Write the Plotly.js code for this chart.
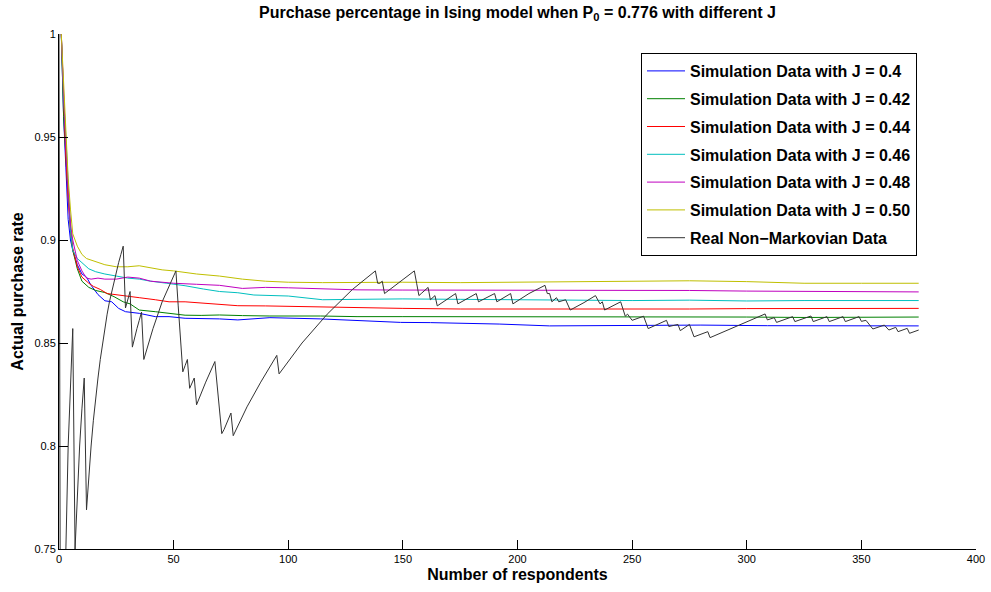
<!DOCTYPE html>
<html>
<head>
<meta charset="utf-8">
<script src="https://cdn.plot.ly/plotly-3.0.1.min.js"></script>
<style>html,body{margin:0;padding:0;background:#fff;}#chart{width:991px;height:592px;}</style>
</head>
<body>
<div id="chart"></div>
<script>
// Simulation curves (x = number of respondents, y = purchase rate)
const j40X = [1,2,3,4,5,6,8,10,12,14,17,20,23,26,29,35,42,48,55,63,70,78,92,114,138,149,162,192,214,250,280,309,340,375];
const j40Y = [1,0.96,0.935,0.91,0.9,0.895,0.888,0.8835,0.882,0.878,0.8735,0.8705,0.870,0.8668,0.8652,0.8644,0.8628,0.8628,0.862,0.862,0.8617,0.8612,0.8623,0.8617,0.8604,0.860,0.8599,0.8592,0.8583,0.8587,0.8587,0.8584,0.8583,0.8583];

const j42X = [1,2,3,4,5,6,8,10,13,16,20,24,28,31,35,42,48,55,62,70,80,92,114,130,150,175,200,225,250,275,300,325,350,375];
const j42Y = [1,0.96,0.94,0.92,0.905,0.895,0.886,0.880,0.877,0.8755,0.8745,0.8725,0.870,0.869,0.866,0.8652,0.8645,0.8635,0.8634,0.8636,0.8633,0.8631,0.8631,0.8628,0.8628,0.8628,0.8626,0.8625,0.8625,0.8626,0.8626,0.8624,0.8624,0.8626];

const j44X = [1,2,3,4,5,6,8,10,13,15,18,21,25,30,35,42,48,55,63,70,78,90,100,114,130,150,175,200,225,250,275,300,325,350,375];
const j44Y = [1,0.965,0.94,0.92,0.905,0.896,0.887,0.882,0.879,0.8775,0.876,0.874,0.8735,0.8728,0.872,0.871,0.870,0.870,0.8693,0.8688,0.8681,0.868,0.8678,0.8676,0.867,0.8668,0.8665,0.8665,0.8663,0.8665,0.8665,0.8667,0.8667,0.8668,0.8668];

const j46X = [1,2,3,4,5,6,8,10,13,16,20,25,30,35,40,47,55,63,70,78,85,100,115,130,150,175,200,225,250,275,300,325,350,375];
const j46Y = [1,0.97,0.95,0.925,0.905,0.895,0.891,0.889,0.886,0.8846,0.8835,0.8825,0.8815,0.881,0.880,0.879,0.8778,0.8762,0.875,0.8744,0.8733,0.8728,0.871,0.8712,0.8714,0.8712,0.871,0.871,0.8706,0.8708,0.8704,0.8706,0.8706,0.8706];

const j48X = [1,2,3,4,5,6,8,10,12,14,17,20,25,30,35,40,50,60,70,80,90,100,115,130,150,175,200,225,250,275,300,325,350,375];
const j48Y = [1,0.97,0.945,0.925,0.908,0.9,0.89,0.885,0.8815,0.881,0.8815,0.881,0.881,0.882,0.8815,0.880,0.879,0.8785,0.878,0.8765,0.877,0.8768,0.8762,0.8758,0.8757,0.8757,0.8756,0.8757,0.8755,0.8755,0.8752,0.875,0.8748,0.8748];

const j50X = [1,2,3,4,5,6,8,10,12,15,20,25,30,35,40,45,50,60,70,80,90,100,115,130,150,175,200,225,250,275,300,325,350,375];
const j50Y = [1,0.975,0.952,0.93,0.915,0.903,0.897,0.893,0.891,0.890,0.888,0.887,0.887,0.8875,0.8865,0.8855,0.885,0.8835,0.8825,0.881,0.880,0.8795,0.8793,0.8795,0.8795,0.8793,0.8795,0.8797,0.880,0.8802,0.8798,0.879,0.879,0.879];

// Real data (vertices)
const realX = [0,1,2,3,4,5,6,7,8,9,10,11,12,13,14,15,16,17,18,19,20,21,22,23,24,25,26,27,28,29,30,31,32,33,34,35,36,37,41,45,51,52,53,54,55,56,57,58,59,60,64,68,69,70,71,72,73,74,75,76,82,88,95,96,106,117,128,138,139,140,141,142,148,155,156,157,158,161,162,163,164,165,169,173,174,178,182,183,190,191,197,198,205,212,213,214,215,217,218,221,223,229,234,236,237,238,245,247,248,250,255,257,261,265,266,270,271,275,277,283,284,296,308,309,312,313,320,321,328,329,335,336,342,343,349,350,352,355,360,362,365,366,370,371,375];
const realY = [1.0,0.5,0.667,0.75,0.8,0.833,0.857,0.75,0.778,0.8,0.818,0.833,0.769,0.786,0.8,0.8125,0.824,0.833,0.842,0.85,0.857,0.864,0.870,0.875,0.88,0.885,0.889,0.893,0.897,0.867,0.871,0.875,0.848,0.853,0.857,0.861,0.865,0.842,0.857,0.870,0.885,0.868,0.852,0.836,0.839,0.842,0.828,0.831,0.833,0.820,0.831,0.841,0.829,0.817,0.806,0.808,0.811,0.813,0.816,0.805,0.819,0.831,0.844,0.835,0.850,0.864,0.876,0.885,0.879,0.879,0.880,0.874,0.879,0.885,0.879,0.873,0.874,0.877,0.871,0.872,0.873,0.868,0.871,0.874,0.869,0.8715,0.874,0.870,0.874,0.870,0.874,0.869,0.874,0.878,0.874,0.874,0.870,0.872,0.870,0.871,0.866,0.8696,0.873,0.869,0.870,0.866,0.870,0.863,0.864,0.861,0.863,0.857,0.859,0.861,0.858,0.859,0.856,0.859,0.853,0.8555,0.8526,0.8585,0.8641,0.8612,0.8623,0.860,0.8628,0.8604,0.8631,0.8604,0.8628,0.8604,0.8628,0.8604,0.8628,0.8605,0.861,0.8568,0.8587,0.8563,0.8576,0.8555,0.8571,0.8547,0.8563];

const names = ['Simulation Data with J = 0.4','Simulation Data with J = 0.42','Simulation Data with J = 0.44','Simulation Data with J = 0.46','Simulation Data with J = 0.48','Simulation Data with J = 0.50','Real Non\u2212Markovian Data'];
const colors = ['#0000ff','#008000','#ff0000','#00bfbf','#bf00bf','#bfbf00','#333333'];
const xs = [j40X,j42X,j44X,j46X,j48X,j50X,realX];
const ys = [j40Y,j42Y,j44Y,j46Y,j48Y,j50Y,realY];

const FONT = 'Liberation Sans, Arial, Helvetica, sans-serif';
const traces = names.map((n,i)=>({
  type:'scatter', mode:'lines', x:xs[i], y:ys[i], name:n, legendgroup:'g'+i,
  line:{color:colors[i], width:1}
}));

const layout = {
  width:991, height:592,
  margin:{l:59, r:15, t:34, b:43, pad:0},
  paper_bgcolor:'#fff', plot_bgcolor:'#fff',
  font:{family:FONT, color:'#000', size:11},
  title:{text:'Purchase percentage in Ising model when P<sub>0</sub> = 0.776 with different J',
         font:{family:FONT, size:16, weight:'bold', color:'#000'},
         x:0.5, xref:'paper', y:1-12/592, yref:'container', yanchor:'middle'},
  showlegend:true,
  legend:{x:(641-59)/917, y:(549-53)/515, xanchor:'left', yanchor:'top',
          bordercolor:'#000', borderwidth:1, bgcolor:'#fff',
          font:{family:FONT, size:16, weight:'bold', color:'#000'},
          tracegroupgap:4, itemwidth:38},
  xaxis:{range:[0,400], tickvals:[0,50,100,150,200,250,300,350,400],
         ticks:'inside', ticklen:9, tickcolor:'#000', showline:true, linecolor:'#000', linewidth:1,
         showgrid:false, zeroline:false, mirror:false, fixedrange:true,
         tickfont:{family:FONT, size:11, color:'#000'},
         title:{text:'Number of respondents', font:{family:FONT, size:16, weight:'bold', color:'#000'}, standoff:4}},
  yaxis:{range:[0.75,1], tickvals:[0.75,0.8,0.85,0.9,0.95,1], ticktext:['0.75','0.8','0.85','0.9','0.95','1'],
         ticks:'inside', ticklen:9, tickcolor:'#000', showline:true, linecolor:'#000', linewidth:1,
         showgrid:false, zeroline:false, mirror:false, fixedrange:true,
         tickfont:{family:FONT, size:11, color:'#000'},
         title:{text:'Actual purchase rate', font:{family:FONT, size:16, weight:'bold', color:'#000'}, standoff:6}}
};

Plotly.newPlot('chart', traces, layout, {displayModeBar:false, staticPlot:true});
</script>
</body>
</html>
